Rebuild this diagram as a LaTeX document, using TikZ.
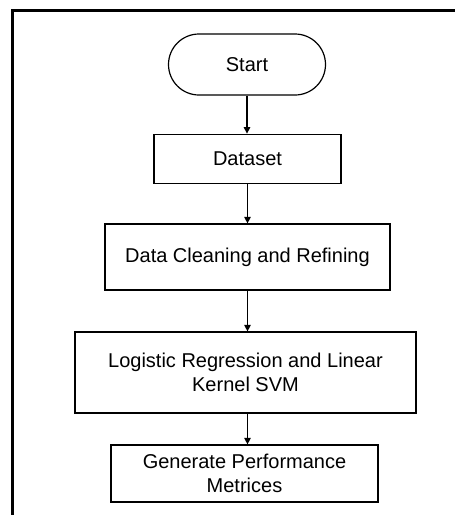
\documentclass[tikz,border=0pt]{standalone}
\usepackage{fontspec}
\setmainfont{Liberation Sans}
\usetikzlibrary{arrows.meta}
\begin{document}
\begin{tikzpicture}[x=1pt,y=-1pt,
  every node/.style={font=\fontsize{20}{23.5}\selectfont, align=center, inner sep=0pt},
  boxnode/.style={draw, line width=1.2pt, rectangle},
  termnode/.style={draw, line width=1.2pt, rectangle, rounded corners=30.5pt},
  flow/.style={line width=1.2pt, -{Triangle[width=6.5pt,length=6.5pt]}}]
\useasboundingbox (0,0) rectangle (455,515);
\draw[line width=2.6pt] (12.5,515) -- (12.5,10.5) -- (455,10.5);
\node[termnode, minimum width=157pt, minimum height=61pt] (start) at (247,64.5) {Start};
\node[boxnode, minimum width=187pt, minimum height=49pt] (dataset) at (247.5,158.7) {Dataset};
\node[boxnode, minimum width=285pt, minimum height=66pt] (clean) at (247.5,257) {Data Cleaning and Refining};
\node[boxnode, minimum width=341pt, minimum height=81pt] (model) at (245.5,372.5) {Logistic Regression and Linear\\Kernel SVM};
\node[boxnode, minimum width=267pt, minimum height=57pt] (metrics) at (244.5,473.5) {Generate Performance\\Metrices};
\draw[flow] (start.south) -- (start.south |- dataset.north);
\draw[flow] (dataset.south) -- (dataset.south |- clean.north);
\draw[flow] (clean.south) -- (clean.south |- model.north);
\draw[flow] ([xshift=2pt]model.south) -- ([xshift=2pt]model.south |- metrics.north);
\end{tikzpicture}
\end{document}
